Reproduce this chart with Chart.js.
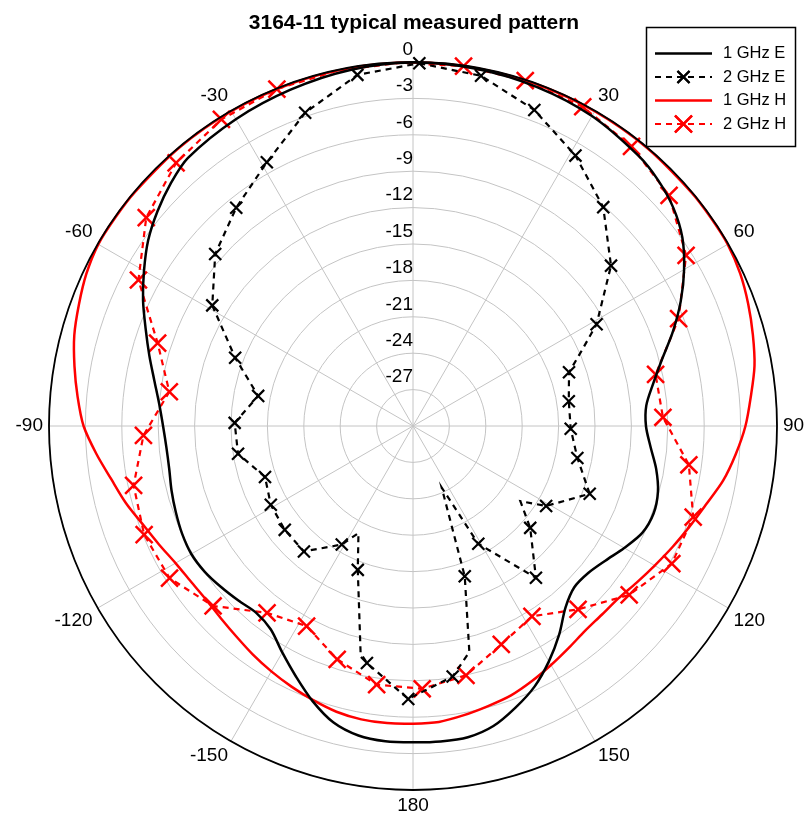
<!DOCTYPE html>
<html>
<head>
<meta charset="utf-8">
<script src="https://cdn.jsdelivr.net/npm/chart.js@4.4.0/dist/chart.umd.min.js"></script>
<style>
  html, body { margin: 0; padding: 0; background: #fff; }
  canvas { display: block; }
</style>
</head>
<body>
<canvas id="polar" width="806" height="825"></canvas>
<script>
const chartTitle = '3164-11 typical measured pattern'
const radialTicks = [0, -3, -6, -9, -12, -15, -18, -21, -24, -27]
const angleTicks = [30, 60, 90, 120, 150, 180, -150, -120, -90, -60, -30]

// 1 GHz E (black solid)
const e1Angles = [0, 10, 20, 30, 40, 45, 50, 55, 60, 65, 70, 75, 80, 85, 90, 95, 100, 105, 110, 115, 120, 125, 130, 135, 140, 145, 150, 155, 160, 165, 170, 175, 180,
  -175, -170, -165, -160, -155, -150, -145, -140, -135, -130, -125, -120, -115, -110, -105, -100, -95, -90, -85, -80, -75, -70, -65, -60, -55, -50, -45, -40, -30, -20, -10]
const e1Values = [-0.05, -0.1, -0.25, -0.5, -1.0, -1.4, -2.0, -2.9, -4.2, -5.65, -7.2, -8.75, -9.9, -10.7, -10.8, -10.35, -9.65, -9.1, -8.9, -9.15, -9.9, -10.65, -11.15, -11.2, -10.45, -9.0, -7.6, -6.3, -5.3, -4.4, -3.95, -3.9, -3.93,
  -3.92, -4.1, -4.7, -5.85, -7.2, -8.45, -9.55, -9.9, -9.65, -9.35, -9.05, -8.9, -9.0, -9.2, -9.4, -9.6, -9.6, -9.4, -9.0, -8.35, -7.5, -6.55, -5.45, -4.4, -3.35, -2.5, -1.75, -1.15, -0.8, -0.5, -0.2]

// 2 GHz E (black dashed, x markers)
const e2Angles = [1, 11, 21, 31, 41, 51, 61, 66, 71, 81, 91, 101, 111, 121, 125, 131, 141, 151, 155, 161, 166, 171,
  -179, -169, -167, -159, -153, -149, -139, -129, -119, -109, -99, -89, -79, -69, -59, -49, -39, -29, -19, -9]
const e2Values = [-0.1, -0.6, -2.1, -4.0, -6.1, -9.0, -12.7, -14.8, -16.4, -17.0, -17.0, -16.2, -14.4, -17.2, -19.2, -17.2, -13.9, -18.9, -24.4, -16.9, -10.8, -9.1,
  -7.5, -10.1, -10.8, -17.3, -20.1, -18.6, -16.3, -16.4, -16.6, -17.1, -15.4, -15.3, -17.0, -14.3, -10.7, -8.4, -6.85, -5.15, -2.7, -0.7]
const e2Marks = [1, 11, 21, 31, 41, 51, 61, 71, 81, 91, 101, 111, 121, 131, 141, 151, 161, 171,
  -179, -169, -159, -149, -139, -129, -119, -109, -99, -89, -79, -69, -59, -49, -39, -29, -19, -9]

// 1 GHz H (red solid)
const h1Angles = [0, 10, 20, 30, 40, 50, 55, 60, 65, 70, 75, 80, 85, 90, 95, 100, 105, 110, 115, 120, 125, 130, 135, 140, 145, 150, 155, 160, 165, 170, 175, 180,
  -175, -170, -165, -160, -155, -150, -145, -140, -135, -130, -125, -120, -115, -110, -105, -100, -95, -90, -85, -80, -75, -70, -65, -60, -55, -50, -40, -30, -20, -10]
const h1Values = [-0.05, -0.05, -0.05, -0.05, -0.05, -0.05, -0.05, -0.05, -0.25, -0.6, -1.0, -1.42, -2.05, -2.6, -3.3, -4.05, -5.0, -5.75, -6.4, -7.0, -7.5, -7.9, -8.0, -7.95, -7.65, -7.25, -6.8, -6.37, -6.1, -5.8, -5.52, -5.47,
  -5.42, -5.45, -5.62, -5.95, -6.3, -6.65, -7.0, -7.35, -7.6, -7.74, -7.65, -7.4, -6.9, -6.3, -5.5, -4.75, -3.8, -2.85, -2.25, -1.67, -1.1, -0.7, -0.3, -0.05, -0.05, -0.05, -0.05, -0.05, -0.05, -0.05]

// 2 GHz H (red dashed, x markers)
const h2Angles = [8, 18, 28, 38, 48, 58, 68, 78, 88, 98, 108, 118, 128, 138, 148, 158, 168, 178,
  -172, -162, -152, -142, -132, -122, -112, -102, -92, -82, -72, -62, -52, -42, -32, -22, -12, -2]
const h2Values = [-0.05, -0.06, -0.2, -0.75, -1.6, -3.46, -6.39, -9.56, -9.39, -7.04, -5.72, -5.84, -7.39, -9.67, -11.5, -10.58, -8.99, -8.33,
  -8.47, -9.78, -11.32, -10.46, -7.83, -6.34, -6.1, -6.46, -7.77, -9.72, -7.87, -4.37, -2.1, -0.82, -0.2, -0.05, -0.05, -0.05]
const h2Marks = [8, 18, 28, 38, 48, 58, 68, 78, 88, 98, 108, 118, 128, 138, 148, 158, 168, 178,
  -172, -162, -152, -142, -132, -122, -112, -102, -92, -82, -72, -62, -52, -42, -32, -22]

const idx = a => ((a % 360) + 360) % 360
const labels = Array.from({length: 360}, (_, i) => String(i > 180 ? i - 360 : i))

function series(angles, values){
    const out = new Array(360).fill(null)
    angles.forEach((a, i) => { out[idx(a)] = values[i] })
    return out
}
function markRadius(marks, r){
    const set = new Set(marks.map(idx))
    return ctx => set.has(ctx.dataIndex) ? r : 0
}

const font = '"Liberation Sans", Arial, sans-serif'

const decor = {
    id: 'decor',
    afterDatasetsDraw(chart){
        const s = chart.scales.r
        const ctx = chart.ctx
        ctx.save()
        // outer 0 dB ring sits on top of the traces
        ctx.beginPath()
        ctx.arc(s.xCenter, s.yCenter, s.drawingArea, 0, Math.PI * 2)
        ctx.strokeStyle = '#000'
        ctx.lineWidth = 1.8
        ctx.stroke()

        ctx.fillStyle = '#000'
        ctx.font = '19px ' + font
        ctx.textAlign = 'right'
        ctx.textBaseline = 'middle'
        radialTicks.forEach(v => {
            const d = s.getDistanceFromCenterForValue(v)
            ctx.fillText(String(v), s.xCenter, s.yCenter - d - 12.5)
        })

        angleTicks.forEach(a => {
            const i = idx(a)
            const p = s.getPointPosition(i, s.drawingArea + 6)
            ctx.textAlign = (i === 0 || i === 180) ? 'center' : (i < 180 ? 'left' : 'right')
            ctx.textBaseline = (i === 90 || i === 270) ? 'middle' : ((i < 90 || i > 270) ? 'bottom' : 'top')
            ctx.fillText(String(a), p.x, p.y)
        })

        ctx.font = 'bold 21px ' + font
        ctx.textAlign = 'center'
        ctx.textBaseline = 'alphabetic'
        ctx.fillText(chartTitle, 414, 28.5)

        // legend
        ctx.fillStyle = '#fff'
        ctx.fillRect(646.5, 27.5, 149, 119)
        ctx.strokeStyle = '#000'
        ctx.lineWidth = 1.5
        ctx.strokeRect(646.5, 27.5, 149, 119)
        ctx.font = '16.5px ' + font
        ctx.textAlign = 'left'
        ctx.textBaseline = 'middle'
        chart.data.datasets.forEach((ds, k) => {
            const y = 53.5 + k * 23.5
            ctx.strokeStyle = ds.borderColor
            ctx.lineWidth = ds.borderWidth
            ctx.setLineDash(ds.borderDash || [])
            ctx.beginPath()
            ctx.moveTo(655, y)
            ctx.lineTo(712, y)
            ctx.stroke()
            ctx.setLineDash([])
            if (ds.legendMark){
                Chart.helpers.drawPoint(ctx, {pointStyle: 'crossRot', radius: ds.legendMark, borderWidth: ds.pointBorderWidth}, 683.5, y)
                ctx.strokeStyle = ds.borderColor
                ctx.lineWidth = ds.pointBorderWidth
                ctx.stroke()
            }
            ctx.fillStyle = '#000'
            ctx.fillText(ds.label, 723, y)
        })
        ctx.restore()
    }
}

new Chart(document.getElementById('polar'), {
    type: 'radar',
    data: {
        labels: labels,
        datasets: [
            {
                label: '1 GHz E',
                data: series(e1Angles, e1Values),
                borderColor: '#000',
                borderWidth: 2.5,
                pointRadius: 0,
                tension: 0.3,
            },
            {
                label: '2 GHz E',
                data: series(e2Angles, e2Values),
                borderColor: '#000',
                borderWidth: 2.2,
                borderDash: [6, 5],
                pointStyle: 'crossRot',
                pointRadius: markRadius(e2Marks, 8.5),
                pointBorderColor: '#000',
                pointBorderWidth: 2.2,
                legendMark: 8.5,
                tension: 0,
            },
            {
                label: '1 GHz H',
                data: series(h1Angles, h1Values),
                borderColor: '#ff0000',
                borderWidth: 2.5,
                pointRadius: 0,
                tension: 0.3,
            },
            {
                label: '2 GHz H',
                data: series(h2Angles, h2Values),
                borderColor: '#ff0000',
                borderWidth: 2.2,
                borderDash: [6, 5],
                pointStyle: 'crossRot',
                pointRadius: markRadius(h2Marks, 12),
                pointBorderColor: '#ff0000',
                pointBorderWidth: 2.5,
                legendMark: 12,
                tension: 0,
            },
        ].map(ds => Object.assign({fill: false, spanGaps: true, pointBackgroundColor: 'transparent', pointHoverRadius: 0}, ds))
    },
    options: {
        responsive: false,
        animation: false,
        layout: {padding: {left: 49, right: 29, top: 62, bottom: 35}},
        plugins: {legend: {display: false}, tooltip: {enabled: false}},
        scales: {
            r: {
                min: -30,
                max: 0,
                startAngle: 0,
                ticks: {display: false, stepSize: 3},
                grid: {circular: true, color: '#c4c4c4', lineWidth: 1},
                angleLines: {color: '#c4c4c4', lineWidth: ctx => ctx.index % 30 === 0 ? 1 : 0},
                pointLabels: {display: false},
            }
        }
    },
    plugins: [decor]
})
</script>
</body>
</html>
